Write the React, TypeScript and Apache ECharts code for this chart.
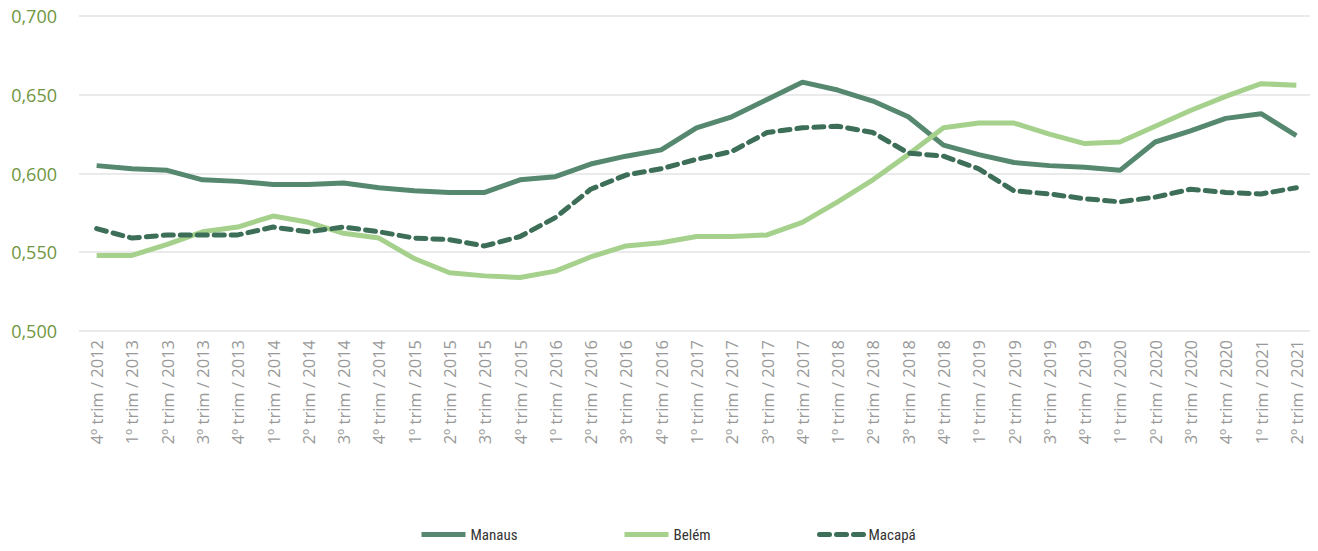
import React, { useEffect, useRef } from "react";
import * as echarts from "echarts";

const categories = [
  "4º trim / 2012",
  "1º trim / 2013", "2º trim / 2013", "3º trim / 2013", "4º trim / 2013",
  "1º trim / 2014", "2º trim / 2014", "3º trim / 2014", "4º trim / 2014",
  "1º trim / 2015", "2º trim / 2015", "3º trim / 2015", "4º trim / 2015",
  "1º trim / 2016", "2º trim / 2016", "3º trim / 2016", "4º trim / 2016",
  "1º trim / 2017", "2º trim / 2017", "3º trim / 2017", "4º trim / 2017",
  "1º trim / 2018", "2º trim / 2018", "3º trim / 2018", "4º trim / 2018",
  "1º trim / 2019", "2º trim / 2019", "3º trim / 2019", "4º trim / 2019",
  "1º trim / 2020", "2º trim / 2020", "3º trim / 2020", "4º trim / 2020",
  "1º trim / 2021", "2º trim / 2021",
];

const manaus = [
  0.605, 0.603, 0.602, 0.596, 0.595, 0.593, 0.593, 0.594, 0.591, 0.589,
  0.588, 0.588, 0.596, 0.598, 0.606, 0.611, 0.615, 0.629, 0.636, 0.647,
  0.658, 0.653, 0.646, 0.636, 0.618, 0.612, 0.607, 0.605, 0.604, 0.602,
  0.620, 0.627, 0.635, 0.638, 0.624,
];

const belem = [
  0.548, 0.548, 0.555, 0.563, 0.566, 0.573, 0.569, 0.562, 0.559, 0.546,
  0.537, 0.535, 0.534, 0.538, 0.547, 0.554, 0.556, 0.560, 0.560, 0.561,
  0.569, 0.582, 0.596, 0.612, 0.629, 0.632, 0.632, 0.625, 0.619, 0.620,
  0.630, 0.640, 0.649, 0.657, 0.656,
];

const macapa = [
  0.565, 0.559, 0.561, 0.561, 0.561, 0.566, 0.563, 0.566, 0.563, 0.559,
  0.558, 0.554, 0.560, 0.572, 0.590, 0.599, 0.603, 0.609, 0.614, 0.626,
  0.629, 0.630, 0.626, 0.613, 0.611, 0.603, 0.589, 0.587, 0.584, 0.582,
  0.585, 0.590, 0.588, 0.587, 0.591,
];

const yTicks = [0.5, 0.55, 0.6, 0.65, 0.7];

const C_MANAUS = "#55886f";
const C_BELEM = "#a5d18c";
const C_MACAPA = "#3d6e58";

export default function App() {
  const ref = useRef<HTMLDivElement>(null);
  useEffect(() => {
    if (!ref.current) return;
    const chart = echarts.init(ref.current, null, { renderer: "svg" });
    const legendText = {
      fontFamily: "'Liberation Sans Narrow', 'Roboto Condensed', sans-serif",
      fontSize: 15,
      color: "#333",
    };
    const legendCommon = {
      top: 522,
      itemWidth: 44,
      itemHeight: 10,
      itemGap: 4,
      textStyle: legendText,
      itemStyle: { opacity: 0 },
      lineStyle: { width: 5 },
    };
    chart.setOption({
      animation: false,
      backgroundColor: "#ffffff",
      grid: { left: 79, right: 4, top: 16, bottom: 220, containLabel: false },
      legend: [
        { ...legendCommon, data: ["Manaus"], left: 414 },
        { ...legendCommon, data: ["Belém"], left: 617 },
        { ...legendCommon, data: ["Macapá"], left: 812 },
      ],
      xAxis: {
        type: "category",
        data: categories,
        boundaryGap: true,
        axisLine: { show: false },
        axisTick: { show: false },
        axisLabel: {
          rotate: 90,
          interval: 0,
          margin: 9,
          color: "#999999",
          fontFamily: "'Open Sans', sans-serif",
          fontSize: 16.5,
        },
      },
      yAxis: {
        type: "value",
        min: 0.5,
        max: 0.7,
        interval: 0.05,
        axisLine: { show: false },
        axisTick: { show: false },
        splitLine: { lineStyle: { color: "#e3e3e3", width: 1.5 } },
        axisLabel: {
          margin: 22,
          color: "#6f9640",
          fontFamily: "'Open Sans', sans-serif",
          fontSize: 18,
          formatter: (v: number) => {
            const t = yTicks.find((x) => Math.abs(x - v) < 1e-9);
            return (t !== undefined ? t : v).toFixed(3).replace(".", ",");
          },
        },
      },
      series: [
        {
          name: "Manaus",
          type: "line",
          data: manaus,
          showSymbol: false,
          symbol: "none",
          lineStyle: { color: C_MANAUS, width: 5 },
          itemStyle: { color: C_MANAUS },
        },
        {
          name: "Belém",
          type: "line",
          data: belem,
          showSymbol: false,
          symbol: "none",
          lineStyle: { color: C_BELEM, width: 5 },
          itemStyle: { color: C_BELEM },
        },
        {
          name: "Macapá",
          type: "line",
          data: macapa,
          showSymbol: false,
          symbol: "none",
          lineStyle: { color: C_MACAPA, width: 5, type: [10, 7], cap: "round" },
          itemStyle: { color: C_MACAPA },
        },
      ],
    });
    return () => chart.dispose();
  }, []);
  return <div ref={ref} style={{ width: 1318, height: 551, margin: -8 }} />;
}
